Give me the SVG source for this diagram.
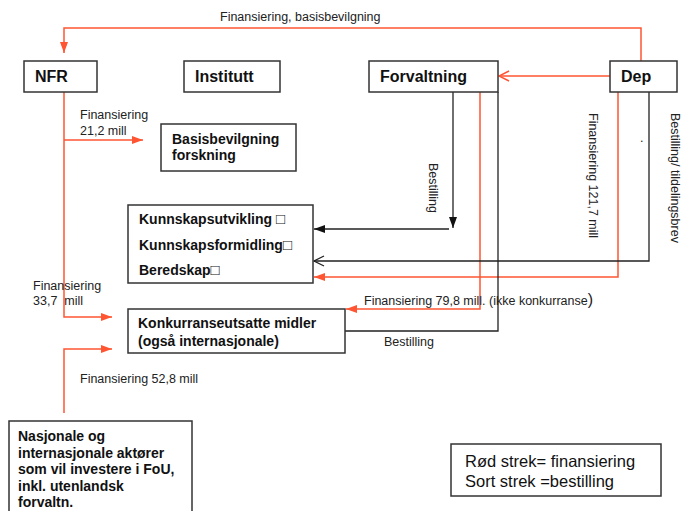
<svg xmlns="http://www.w3.org/2000/svg" width="683" height="511" viewBox="0 0 683 511">
<style>
.box{fill:#fff;stroke:#333;stroke-width:1.5}
.n{font-family:"Liberation Sans",Arial,sans-serif;font-weight:bold;font-size:16px;fill:#111}
.b{font-family:"Liberation Sans",Arial,sans-serif;font-weight:bold;font-size:14px;fill:#111}
.l{font-family:"Liberation Sans",Arial,sans-serif;font-size:12.5px;fill:#222}
.lg{font-family:"Liberation Sans",Arial,sans-serif;font-size:16.5px;fill:#111}
.sq{font-weight:normal;font-size:15px}
.r{fill:none;stroke:#ff5533;stroke-width:1.5}
.k{fill:none;stroke:#222;stroke-width:1.3}
</style>
<defs>
<marker id="rf" markerUnits="userSpaceOnUse" markerWidth="12" markerHeight="10" refX="11" refY="5" orient="auto"><path d="M0,1 L11,5 L0,9 Z" fill="#ff5533"/></marker>
<marker id="ro" markerUnits="userSpaceOnUse" markerWidth="12" markerHeight="12" refX="11" refY="6" orient="auto"><path d="M1,1 L11,6 L1,11" fill="none" stroke="#ff5533" stroke-width="1.5"/></marker>
<marker id="kf" markerUnits="userSpaceOnUse" markerWidth="12" markerHeight="10" refX="11" refY="5" orient="auto"><path d="M0,1 L11,5 L0,9 Z" fill="#111"/></marker>
<marker id="ko" markerUnits="userSpaceOnUse" markerWidth="12" markerHeight="12" refX="11" refY="6" orient="auto"><path d="M1,1 L11,6 L1,11" fill="none" stroke="#222" stroke-width="1.3"/></marker>
</defs>
<rect width="683" height="511" fill="#fff"/>

<g id="connectors">
<path class="r" d="M641,61 V28 H64 V53" marker-end="url(#rf)"/>
<path class="r" d="M610,76 H499" marker-end="url(#ro)"/>
<path class="r" d="M64,92 V317 H112" marker-end="url(#rf)"/>
<path class="r" d="M64,140 H143" marker-end="url(#rf)"/>
<path class="r" d="M64,413 V349 H112" marker-end="url(#rf)"/>
<path class="r" d="M618,92 V277 H314" marker-end="url(#rf)"/>
<path class="r" d="M480,92 V309 H346" marker-end="url(#rf)"/>
<path class="k" d="M453,92 V228" marker-end="url(#kf)"/>
<path class="k" d="M449,229 H314" marker-end="url(#kf)"/>
<path class="k" d="M649,92 V261 H314" marker-end="url(#ko)"/>
<path class="k" d="M498,92 V331 H345"/>
</g>

<g id="labels">
<text class="l" x="220" y="21">Finansiering, basisbevilgning</text>
<text class="l" x="80" y="119">Finansiering</text>
<text class="l" x="80" y="135">21,2 mill</text>
<text class="l" x="33" y="290">Finansiering</text>
<text class="l" x="33" y="305" xml:space="preserve">33,7  mill</text>
<text class="l" x="80" y="383">Finansiering 52,8 mill</text>
<text class="l" x="364" y="305">Finansiering 79,8 mill. (ikke konkurranse<tspan font-size="16">)</tspan></text>
<text class="l" x="384" y="346">Bestilling</text>
<text class="l" transform="translate(428.5,163) rotate(90)">Bestilling</text>
<text class="l" transform="translate(588.5,113) rotate(90)">Finansiering 121,7 mill</text>
<text class="l" transform="translate(670.5,113) rotate(90)">Bestilling/ tildelingsbrev</text>
<text class="l" x="640" y="142" font-size="9">.</text>
</g>

<g id="nfr"><rect class="box" x="24" y="61" width="73" height="31"/><text class="n" x="35" y="82">NFR</text></g>
<g id="institutt"><rect class="box" x="184" y="61" width="96" height="31"/><text class="n" x="195" y="82">Institutt</text></g>
<g id="forvaltning"><rect class="box" x="369" y="61" width="129" height="31"/><text class="n" x="380" y="82">Forvaltning</text></g>
<g id="dep"><rect class="box" x="610" y="61" width="67" height="31"/><text class="n" x="621" y="82">Dep</text></g>
<g id="basis"><rect class="box" x="161" y="124" width="135" height="47"/><text class="b" x="172" y="144">Basisbevilgning</text><text class="b" x="172" y="160">forskning</text></g>
<g id="kunnskap"><rect class="box" x="128" y="205" width="185" height="78"/>
<text class="b" x="139" y="224">Kunnskapsutvikling <tspan class="sq">□</tspan></text>
<text class="b" x="139" y="250">Kunnskapsformidling<tspan class="sq">□</tspan></text>
<text class="b" x="139" y="275">Beredskap<tspan class="sq">□</tspan></text></g>
<g id="konkurranse"><rect class="box" x="128" y="309" width="217" height="44"/><text class="b" x="138" y="328">Konkurranseutsatte midler</text><text class="b" x="138" y="346">(også internasjonale)</text></g>
<g id="nasjonale"><rect class="box" x="9" y="421" width="183" height="95"/>
<text class="b" x="18" y="441">Nasjonale og</text>
<text class="b" x="18" y="458">internasjonale aktører</text>
<text class="b" x="18" y="474">som vil investere i FoU,</text>
<text class="b" x="18" y="491">inkl. utenlandsk</text>
<text class="b" x="18" y="507">forvaltn.</text></g>
<g id="legend"><rect class="box" x="451" y="444" width="210" height="52"/>
<text class="lg" x="465" y="467">Rød strek= finansiering</text>
<text class="lg" x="465" y="487">Sort strek =bestilling</text></g>
</svg>
